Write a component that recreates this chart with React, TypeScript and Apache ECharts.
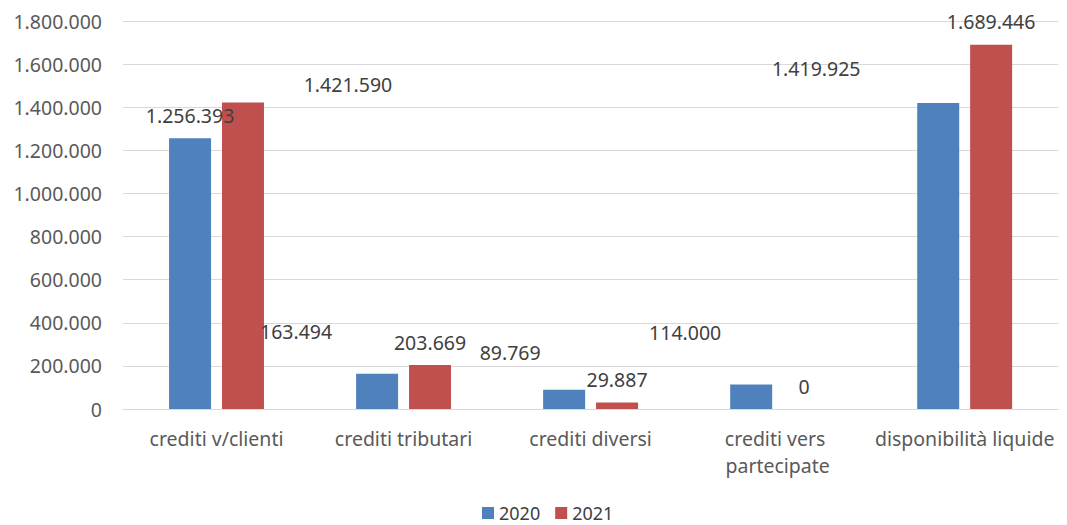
import React, { useEffect, useRef } from "react";
import * as echarts from "echarts";

const categories = [
  "crediti v/clienti",
  "crediti tributari",
  "crediti diversi",
  "crediti vers partecipate",
  "disponibilità liquide",
];
const seriesNames = ["2020", "2021"];
const values2020 = [1256393, 163494, 89769, 114000, 1419925];
const values2021 = [1421590, 203669, 29887, 0, 1689446];
const yTicks = [0, 200000, 400000, 600000, 800000, 1000000, 1200000, 1400000, 1600000, 1800000];

// label displacement (as in the original picture), in pixels
const labelOffsets2020 = [[0, 0], [-81, -19], [-54, -14], [-66, -29], [-122, -11]];
const labelOffsets2021 = [[105, 5], [0, 0], [0, 0], [0, 0], [0, 0]];

const FONT = "'Noto Sans', 'Liberation Sans', sans-serif";

const fmt = (n: number) => String(n).replace(/\B(?=(\d{3})+(?!\d))/g, ".");

export default function App() {
  const ref = useRef<HTMLDivElement>(null);
  useEffect(() => {
    if (!ref.current) return;
    const chart = echarts.init(ref.current, undefined, { renderer: "svg" });
    const mkData = (vals: number[], offs: number[][]) =>
      vals.map((v, i) => ({ value: v, label: { offset: offs[i] } }));
    const labelStyle = {
      show: true,
      position: "top",
      distance: 13,
      color: "#404040",
      fontSize: 19.5,
      fontFamily: FONT,
      formatter: (p: any) => fmt(p.value),
    };
    chart.setOption({
      animation: false,
      textStyle: { fontFamily: FONT },
      grid: { left: 123, right: 2, top: 21, bottom: 116, containLabel: false },
      legend: {
        data: seriesNames,
        left: 482,
        top: 503,
        padding: 0,
        itemWidth: 12,
        itemHeight: 12,
        itemGap: 15,
        icon: "rect",
        textStyle: { fontSize: 18, lineHeight: 20, color: "#404040", fontFamily: FONT },
      },
      xAxis: {
        type: "category",
        data: categories,
        axisTick: { show: false },
        axisLine: { lineStyle: { color: "#d9d9d9", width: 1 } },
        axisLabel: {
          interval: 0,
          color: "#595959",
          fontSize: 19.5,
          fontFamily: FONT,
          margin: 16,
          lineHeight: 27,
          width: 200,
          overflow: "break",
        },
      },
      yAxis: {
        type: "value",
        min: yTicks[0],
        max: yTicks[yTicks.length - 1],
        interval: yTicks[1] - yTicks[0],
        axisLine: { show: false },
        axisTick: { show: false },
        splitLine: { lineStyle: { color: "#d9d9d9", width: 1 } },
        axisLabel: {
          color: "#595959",
          fontSize: 19.5,
          fontFamily: FONT,
          margin: 21,
          formatter: (v: number) => fmt(v),
        },
      },
      series: [
        {
          name: seriesNames[0],
          type: "bar",
          data: mkData(values2020, labelOffsets2020),
          barWidth: 42,
          barGap: "26%",
          itemStyle: { color: "#4F81BD" },
          label: labelStyle,
        },
        {
          name: seriesNames[1],
          type: "bar",
          data: mkData(values2021, labelOffsets2021),
          barWidth: 42,
          itemStyle: { color: "#C0504D" },
          label: labelStyle,
        },
      ],
    });
    return () => chart.dispose();
  }, []);
  return (
    <div
      ref={ref}
      style={{ position: "fixed", left: 0, top: 0, width: 1067, height: 525, background: "#fff" }}
    />
  );
}
